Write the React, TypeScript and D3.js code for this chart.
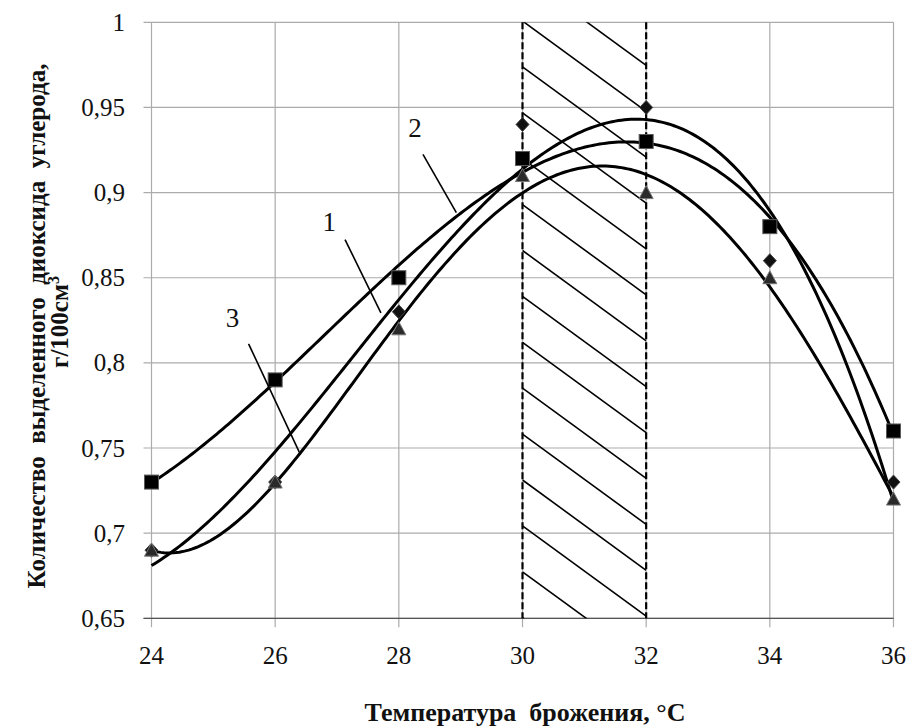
import React from "react";
import * as d3 from "d3";

const W = 915;
const H = 728;

// Fermentation temperature, °C
const temperature = [24, 26, 28, 30, 32, 34, 36];
// CO2 released, g/100 cm³ — three sample series
const seriesDiamond = [0.69, 0.73, 0.83, 0.94, 0.95, 0.86, 0.73];
const seriesSquare = [0.73, 0.79, 0.85, 0.92, 0.93, 0.88, 0.76];
const seriesTriangle = [0.69, 0.73, 0.82, 0.91, 0.9, 0.85, 0.72];
// polynomial trendline order for each series
const trendOrders = [3, 3, 4];

const xTicks = [24, 26, 28, 30, 32, 34, 36];
const xTickLabels = ["24", "26", "28", "30", "32", "34", "36"];
const yTicks = [0.65, 0.7, 0.75, 0.8, 0.85, 0.9, 0.95, 1];
const yTickLabels = ["0,65", "0,7", "0,75", "0,8", "0,85", "0,9", "0,95", "1"];

// optimal temperature band
const optimumBand = [30, 32];

// curve numbers and their leader lines (data coordinates)
const curveNames = ["1", "2", "3"];
const nameAnchors = [
  [26.875, 0.8776],
  [28.26, 0.9324],
  [25.31, 0.8212],
];
const leaderFrom = [
  [27.13, 0.8724],
  [28.39, 0.9224],
  [25.57, 0.8112],
];
const leaderTo = [
  [27.71, 0.8294],
  [28.93, 0.8882],
  [26.39, 0.7476],
];

const xTitle = "Температура  брожения, °C";
const yTitleLine1 = "Количество  выделенного  диоксида  углерода,";
const yTitleLine2 = "г/100см";

const FONT = "Liberation Serif, Times New Roman, serif";

// least-squares polynomial fit; returns evaluator
function polyFit(xs: number[], ys: number[], order: number) {
  const cx = 30;
  const sx = 2;
  const n = order + 1;
  const A: number[][] = Array.from({ length: n }, () => new Array(n + 1).fill(0));
  xs.forEach((xv, i) => {
    const t = (xv - cx) / sx;
    const pw: number[] = [];
    for (let k = 0; k < 2 * n; k++) pw.push(Math.pow(t, k));
    for (let r = 0; r < n; r++) {
      for (let c = 0; c < n; c++) A[r][c] += pw[r + c];
      A[r][n] += pw[r] * ys[i];
    }
  });
  for (let p = 0; p < n; p++) {
    let best = p;
    for (let r = p + 1; r < n; r++) if (Math.abs(A[r][p]) > Math.abs(A[best][p])) best = r;
    [A[p], A[best]] = [A[best], A[p]];
    for (let r = 0; r < n; r++) {
      if (r === p) continue;
      const f = A[r][p] / A[p][p];
      for (let c = p; c <= n; c++) A[r][c] -= f * A[p][c];
    }
  }
  const coef = A.map((row, i) => row[n] / row[i]);
  return (xv: number) => {
    const t = (xv - cx) / sx;
    return coef.reduce((s, c, k) => s + c * Math.pow(t, k), 0);
  };
}

const txt = { fontFamily: FONT, whiteSpace: "pre" as const };

export default function App() {
  const x = d3.scaleLinear().domain([24, 36]).range([151.5, 893.5]);
  const y = d3.scaleLinear().domain([0.65, 1]).range([618.3, 22.3]);

  const allSeries = [seriesDiamond, seriesSquare, seriesTriangle];
  const samples = d3.range(24, 36.0001, 0.05);
  const line = d3
    .line<[number, number]>()
    .x((d) => x(d[0]))
    .y((d) => y(d[1]));
  const trendPaths = allSeries.map((s, i) => {
    const f = polyFit(temperature, s, trendOrders[i]);
    return line(samples.map((t) => [t, f(t)] as [number, number])) || "";
  });

  const gridColor = "#ababab";
  const x0 = x(24);
  const x1 = x(36);
  const yTop = y(1);
  const yBot = y(0.65);

  const bx0 = x(optimumBand[0]);
  const bx1 = x(optimumBand[1]);
  const hatchSlope = 0.73;
  const hatchStep = 45.9;
  const hatchStart = 21;
  const hatch = d3.range(-2, 15).map((k) => {
    const ya = hatchStart + hatchStep * k;
    return { ya, yb: ya + hatchSlope * (bx1 - bx0) };
  });

  const square = (cx: number, cy: number, key: string) => (
    <rect key={key} x={cx - 7} y={cy - 7} width={14} height={14} fill="#000" stroke="#5a5a5a" strokeWidth={1} />
  );
  const diamond = (cx: number, cy: number, key: string) => (
    <path key={key} d={`M${cx},${cy - 7}L${cx + 6.5},${cy}L${cx},${cy + 7}L${cx - 6.5},${cy}Z`} fill="#111" stroke="#444" strokeWidth={1} />
  );
  const triangle = (cx: number, cy: number, key: string) => (
    <path key={key} d={`M${cx},${cy - 7}L${cx + 7},${cy + 6}L${cx - 7},${cy + 6}Z`} fill="#2a2a2a" stroke="#777" strokeWidth={1} />
  );

  return (
    <svg width={W} height={H} style={{ position: "absolute", left: 0, top: 0, background: "#fff" }}>
      <rect width={W} height={H} fill="#fff" />
      <defs>
        <clipPath id="band">
          <rect x={bx0} y={yTop} width={bx1 - bx0} height={yBot - yTop} />
        </clipPath>
      </defs>

      {/* horizontal gridlines */}
      {yTicks.map((v) => (
        <line key={`h${v}`} x1={x0 - 8} x2={x1} y1={y(v)} y2={y(v)} stroke={gridColor} strokeWidth={1.2} />
      ))}
      {/* vertical gridlines and tick marks */}
      {xTicks.map((v) => (
        <line key={`v${v}`} x1={x(v)} x2={x(v)} y1={yTop} y2={yBot + 9} stroke={gridColor} strokeWidth={1.2} />
      ))}
      {/* bottom axis */}
      <line x1={x0 - 8} x2={x1} y1={yBot} y2={yBot} stroke="#555" strokeWidth={1.3} />

      {/* y tick labels */}
      {yTicks.map((v, i) => (
        <text key={`yt${v}`} x={125} y={y(v)} dy="0.34em" textAnchor="end" fontSize={25} fill="#111" style={txt}>
          {yTickLabels[i]}
        </text>
      ))}
      {/* x tick labels */}
      {xTicks.map((v, i) => (
        <text key={`xt${v}`} x={x(v)} y={664} textAnchor="middle" fontSize={25} fill="#111" style={txt}>
          {xTickLabels[i]}
        </text>
      ))}

      {/* optimum temperature band */}
      <g clipPath="url(#band)">
        {hatch.map((h, i) => (
          <line key={`hh${i}`} x1={bx0} x2={bx1} y1={h.ya} y2={h.yb} stroke="#000" strokeWidth={1.6} />
        ))}
      </g>
      {optimumBand.map((v) => (
        <line key={`d${v}`} x1={x(v)} x2={x(v)} y1={yTop} y2={yBot} stroke="#000" strokeWidth={2.2} strokeDasharray="7,3" />
      ))}

      {/* polynomial trendlines */}
      {trendPaths.map((d, i) => (
        <path key={`t${i}`} d={d} fill="none" stroke="#000" strokeWidth={3} />
      ))}

      {/* data markers */}
      {temperature.map((t, i) => diamond(x(t), y(seriesDiamond[i]), `md${i}`))}
      {temperature.map((t, i) => square(x(t), y(seriesSquare[i]), `ms${i}`))}
      {temperature.map((t, i) => triangle(x(t), y(seriesTriangle[i]), `mt${i}`))}

      {/* curve numbers */}
      {curveNames.map((nm, i) => (
        <g key={`n${i}`}>
          <text x={x(nameAnchors[i][0])} y={y(nameAnchors[i][1])} textAnchor="middle" fontSize={27} fill="#111" style={txt}>
            {nm}
          </text>
          <line
            x1={x(leaderFrom[i][0])}
            y1={y(leaderFrom[i][1])}
            x2={x(leaderTo[i][0])}
            y2={y(leaderTo[i][1])}
            stroke="#000"
            strokeWidth={1.6}
          />
        </g>
      ))}

      {/* axis titles */}
      <text x={525} y={721} textAnchor="middle" fontSize={26} fontWeight="bold" fill="#111" style={txt}>
        {xTitle}
      </text>
      <text
        transform="translate(45,326) rotate(-90)"
        textAnchor="middle"
        fontSize={25}
        fontWeight="bold"
        fill="#111"
        style={txt}
      >
        {yTitleLine1}
      </text>
      <text transform="translate(68,322) rotate(-90)" textAnchor="middle" fontSize={25} fontWeight="bold" fill="#111" style={txt}>
        {yTitleLine2}
        <tspan fontSize={16} dy={-9}>
          3
        </tspan>
      </text>
    </svg>
  );
}
